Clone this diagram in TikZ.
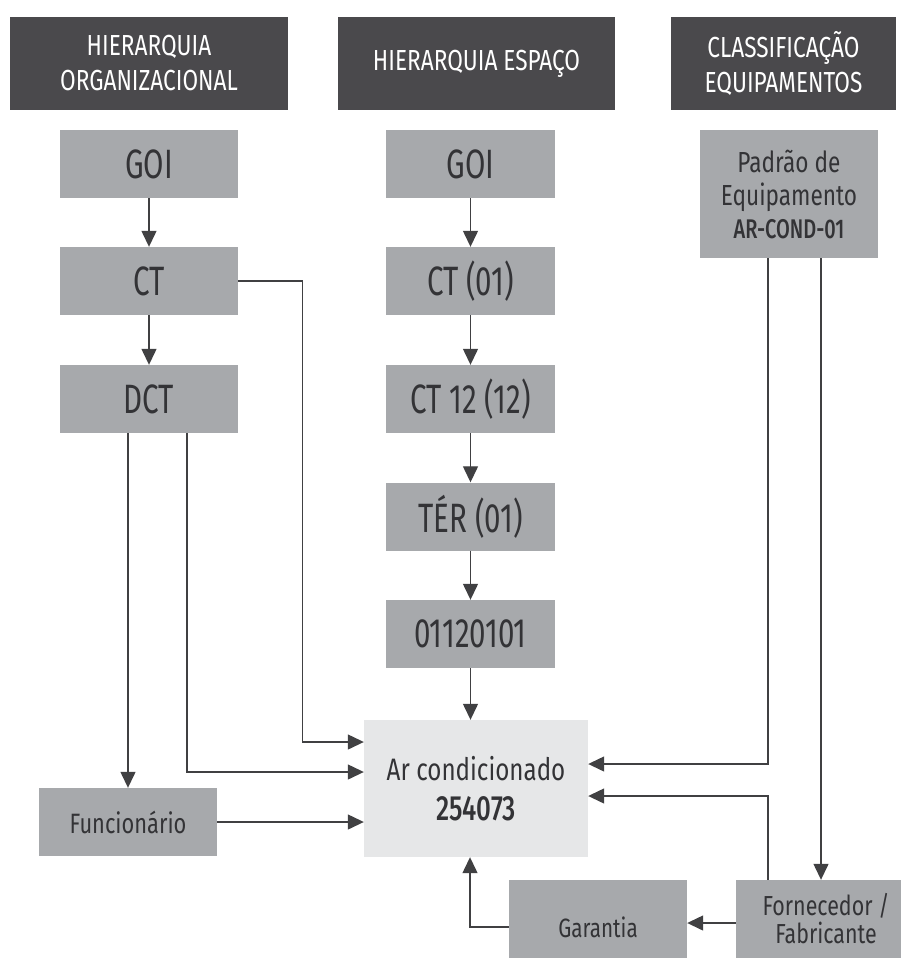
\documentclass[tikz,border=0pt]{standalone}
\usepackage{fontspec}
\setmainfont{Fira Sans}[FakeStretch=0.78]
\newfontfamily\narrowfont{Fira Sans}[FakeStretch=0.72]
\newfontfamily\medfont{Fira Sans Medium}[FakeStretch=0.74]
\usetikzlibrary{arrows.meta}
\definecolor{headbg}{HTML}{4A494C}
\definecolor{boxbg}{HTML}{A7A9AC}
\definecolor{mainbg}{HTML}{E6E7E8}
\definecolor{ink}{HTML}{333336}
\definecolor{wire}{HTML}{404042}

\begin{document}
\begin{tikzpicture}[x=1pt,y=-1pt,
  head/.style={fill=headbg, text=white, inner sep=0pt, minimum height=93pt,
    align=center, font=\fontsize{29}{35}\selectfont},
  box/.style={fill=boxbg, text=ink, inner sep=0pt, minimum width=178pt,
    minimum height=68pt, align=center},
  big/.style={font=\narrowfont\fontsize{41}{44}\selectfont},
  mid/.style={font=\fontsize{29}{33}\selectfont},
  small/.style={font=\fontsize{27.5}{28}\selectfont},
  link/.style={draw=wire, line width=1.3pt, -{Triangle[length=16pt,width=15pt]}},
]
\path[use as bounding box] (0,0) rectangle (901,958);
\clip (0,0) rectangle (901,958);
\fill[white] (0,0) rectangle (901,958);

% column headers
\node[head, minimum width=278pt] (h1) at (149,63.5) {HIERARQUIA\\ORGANIZACIONAL};
\node[head, minimum width=277pt] (h2) at (476.5,63.5) {HIERARQUIA ESPAÇO};
\node[head, minimum width=225pt] (h3) at (783.5,63.5) {CLASSIFICAÇÃO\\EQUIPAMENTOS};

% organisational hierarchy
\node[box, big] (o1) at (149,164) {GOI};
\node[box, big] (o2) at (149,281) {CT};
\node[box, big] (o3) at (149,399) {DCT};

% space hierarchy
\node[box, big, minimum width=169pt] (s1) at (470.5,164) {GOI};
\node[box, big, minimum width=169pt] (s2) at (470.5,281) {CT (01)};
\node[box, big, minimum width=169pt] (s3) at (470.5,399) {CT 12 (12)};
\node[box, big, minimum width=169pt] (s4) at (470.5,516.5) {TÉR (01)};
\node[box, big, minimum width=169pt] (s5) at (470.5,634) {01120101};

% equipment classification
\node[box, mid, minimum height=128pt] (p) at (789,194)
  {Padrão de\\Equipamento\\{\medfont\fontsize{27}{33}\selectfont AR-COND-01}};

% the asset
\node[box, fill=mainbg, minimum width=224pt, minimum height=137pt,
  font=\fontsize{31}{40}\selectfont] (ac) at (476,788.5)
  {Ar condicionado\\{\medfont\fontsize{35}{40}\selectfont 254073}};

\node[box, small, font=\fontsize{28}{30}\selectfont] (f) at (128,822) {Funcionário};
\node[box, minimum height=94pt, font=\fontsize{26.5}{30}\selectfont] (g) at (598,927) {Garantia};
\node[box, minimum height=94pt] (fb) at (825,927) {};
\node[small, text=ink, align=center, inner sep=0pt] (fbt) at (826,919) {Fornecedor /\\Fabricante};

% connectors
\draw[link] (o1) -- (o2);
\draw[link] (o2) -- (o3);
\draw[link] (o2.east) -| ([xshift=-61pt,yshift=46.5pt]ac.west) -- ([yshift=46.5pt]ac.west);
\draw[link] (o3.south -| f.north) -- (f.north);
\draw[link] ([xshift=38pt]o3.south) |- ([yshift=16.5pt]ac.west);
\draw[link] (f.east) -- (f.east -| ac.west);

\draw[link] (s1) -- (s2);
\draw[link] (s2) -- (s3);
\draw[link] (s3) -- (s4);
\draw[link] (s4) -- (s5);
\draw[link] (s5.south) -- (s5.south |- ac.north);

\draw[link] ([xshift=-21pt]p.south) |- ([yshift=24.5pt]ac.east);
\draw[link] ([xshift=32pt]p.south) -- ([xshift=32pt]p.south |- fb.north);
\draw[link] ([xshift=-57pt]fb.north) |- ([yshift=-7.5pt]ac.east);
\draw[link] ([yshift=4pt]fb.west) -- ([yshift=4pt]fb.west -| g.east);
\draw[link] (g.west) -| ([xshift=-6pt]ac.south);
\end{tikzpicture}
\end{document}
